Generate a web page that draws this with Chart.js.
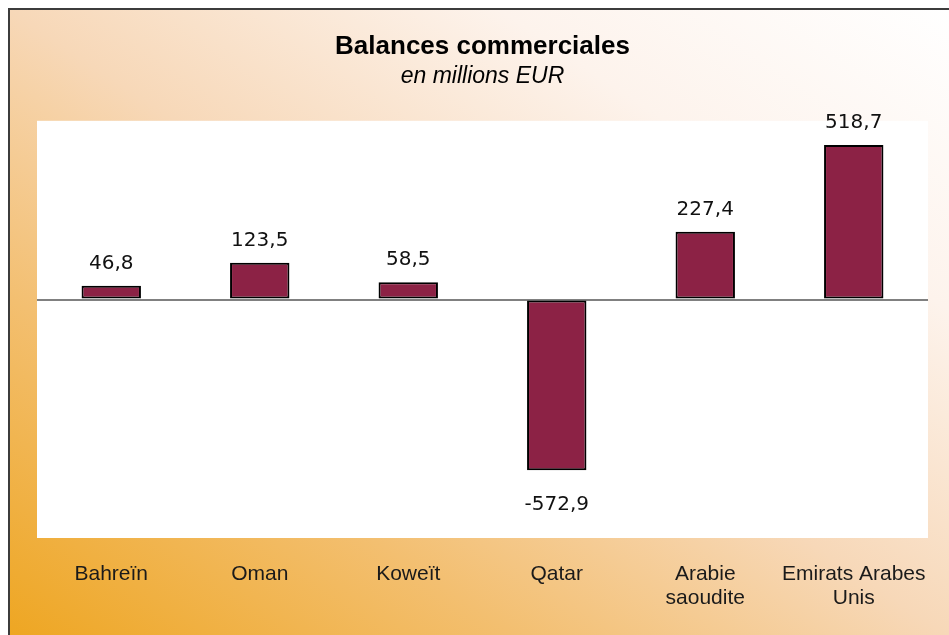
<!DOCTYPE html>
<html>
<head>
<meta charset="utf-8">
<script src="https://cdn.jsdelivr.net/npm/chart.js@4.4.1/dist/chart.umd.min.js"></script>
<style>
  body { margin: 0; background: #fff; }
  #wrap { position: relative; width: 949px; height: 635px; overflow: hidden; }
  #frame {
    position: absolute; left: 8px; top: 8px; width: 941px; height: 627px;
    border-left: 2px solid #3c3c3c; border-top: 2px solid #3c3c3c;
    background: linear-gradient(to top right, #eea622 0%, #f3bf70 27%, #f7d8b8 50%, #fdf3ec 76%, #ffffff 100%);
  }
  #chartBox { position: absolute; left: 0; top: 0; width: 949px; height: 635px; }
</style>
</head>
<body>
<div id="wrap">
  <div id="frame"></div>
  <div id="chartBox"><canvas id="balanceChart"></canvas></div>
</div>
<script>
// data
const countries = ['Bahreïn', 'Oman', 'Koweït', 'Qatar', ['Arabie', 'saoudite'], ['Emirats Arabes', 'Unis']];
const balances = [46.8, 123.5, 58.5, -572.9, 227.4, 518.7];
const axisMin = -800;
const axisMax = 600;

const barColor = '#8c2245';

// white plot area behind the bars
const plotBackground = {
  id: 'plotBackground',
  beforeDraw(chart) {
    const { ctx, chartArea } = chart;
    ctx.save();
    ctx.fillStyle = '#ffffff';
    ctx.fillRect(chartArea.left, chartArea.top, chartArea.right - chartArea.left, chartArea.bottom - chartArea.top);
    ctx.restore();
  }
};

// value labels above / below each bar, french decimal comma
const valueLabels = {
  id: 'valueLabels',
  afterDatasetsDraw(chart) {
    const { ctx } = chart;
    const meta = chart.getDatasetMeta(0);
    ctx.save();
    ctx.font = '20px "DejaVu Sans"';
    ctx.fillStyle = '#111111';
    ctx.textAlign = 'center';
    ctx.textBaseline = 'alphabetic';
    meta.data.forEach((bar, i) => {
      const v = balances[i];
      const txt = v.toFixed(1).replace('.', ',');
      const y = v >= 0 ? bar.y - 17 : bar.y + 40;
      ctx.fillText(txt, bar.x, y);
    });
    ctx.restore();
  }
};

const ctx = document.getElementById('balanceChart').getContext('2d');
new Chart(ctx, {
  type: 'bar',
  data: {
    labels: countries,
    datasets: [{
      data: balances,
      backgroundColor: barColor,
      borderColor: '#000000',
      borderWidth: 2,
      borderSkipped: false,
      barPercentage: 0.4,
      categoryPercentage: 1.0
    }]
  },
  options: {
    responsive: true,
    maintainAspectRatio: false,
    animation: false,
    layout: { padding: { left: 37, right: 21, top: 0, bottom: 1 } },
    plugins: {
      legend: { display: false },
      tooltip: { enabled: false },
      title: {
        display: true,
        text: 'Balances commerciales',
        color: '#000000',
        font: { family: '"Liberation Sans", Arial', size: 26, weight: 'bold' },
        padding: { top: 31.5, bottom: 0 }
      },
      subtitle: {
        display: true,
        text: 'en millions EUR',
        color: '#000000',
        font: { family: '"Liberation Sans", Arial', size: 23, style: 'italic' },
        padding: { top: 0.5, bottom: 30 }
      }
    },
    scales: {
      x: {
        grid: { display: false, drawTicks: false },
        border: { display: false },
        // long last label should not shrink the plot area
        afterFit(scale) {
          scale.paddingLeft = 0;
          scale.paddingRight = 0;
        },
        ticks: {
          color: '#1a1a1a',
          font: { family: '"Liberation Sans", Arial', size: 21, lineHeight: 24 / 21 },
          padding: 24,
          maxRotation: 0,
          autoSkip: false
        }
      },
      y: {
        min: axisMin,
        max: axisMax,
        ticks: { display: false, stepSize: 200 },
        border: { display: false },
        grid: {
          drawTicks: false,
          lineWidth: 2,
          color: (c) => (c.tick && c.tick.value === 0 ? '#808080' : 'rgba(0,0,0,0)')
        }
      }
    }
  },
  plugins: [plotBackground, valueLabels]
});
</script>
</body>
</html>
